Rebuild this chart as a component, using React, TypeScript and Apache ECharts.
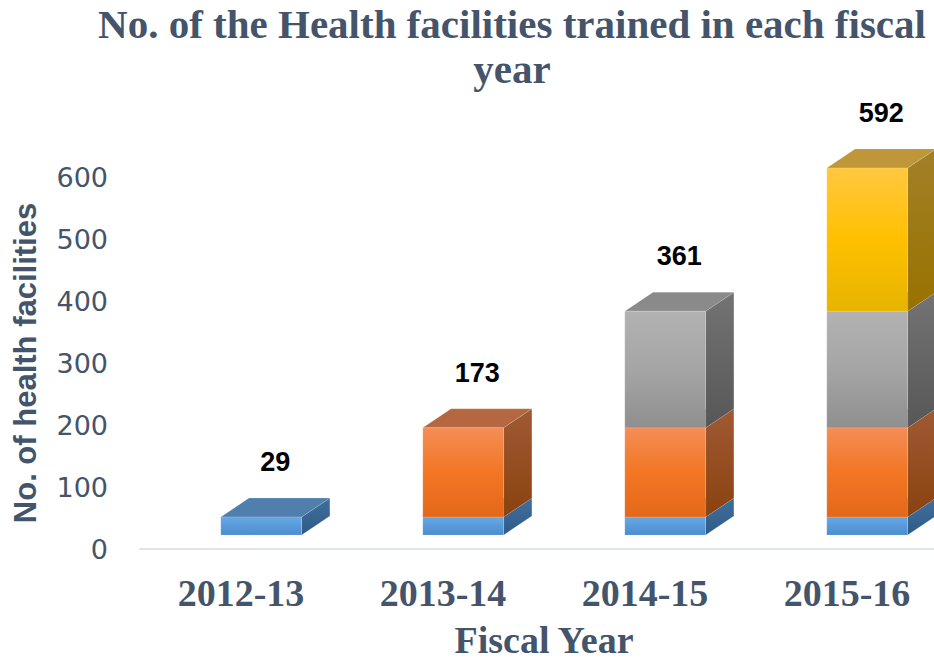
import React, { useEffect, useRef } from "react";
import * as echarts from "echarts";

const categories = ["2012-13", "2013-14", "2014-15", "2015-16"];
const seriesNames = ["Blue", "Orange", "Gray", "Gold"];
const blueValues = [29, 29, 29, 29];
const orangeValues = [0, 144, 144, 144];
const grayValues = [0, 0, 188, 188];
const goldValues = [0, 0, 0, 231];
const yTicks = { min: 0, max: 600, interval: 100 };

const TEXT = "#44546a";

const palettes = [
  { front: ["#67a9e4", "#4a8ccf"], top: "#507fae", side: ["#416f9c", "#2e5a86"] },
  { front: ["#f48d57", "#f27623", "#e4681a"], top: "#b5683f", side: ["#a05a33", "#8a4210"] },
  { front: ["#b2b2b2", "#a5a5a5", "#8f8f8f"], top: "#8a8a8a", side: ["#737373", "#575757"] },
  { front: ["#ffc840", "#ffc000", "#e6b400"], top: "#bf9738", side: ["#a38027", "#987200"] },
];

function grad(stops: string[], horizontal = false) {
  const n = stops.length;
  return new echarts.graphic.LinearGradient(0, 0, horizontal ? 1 : 0, horizontal ? 0 : 1,
    stops.map((c, i) => ({ offset: n === 1 ? 0 : i / (n - 1), color: c })));
}

export default function App() {
  const ref = useRef<HTMLDivElement>(null);
  useEffect(() => {
    if (!ref.current) return;
    const chart = echarts.init(ref.current, undefined, { renderer: "svg" });
    const segs = [blueValues, orangeValues, grayValues, goldValues];
    const totals = categories.map((_, i) => segs.reduce((s, a) => s + a[i], 0));

    const LIFT = 14;
    const DY = 19;

    const geom = (api: any, i: number) => {
      const bw = api.size([1, 0])[0];
      const cx = api.coord([i, 0])[0];
      const L = cx - 0.1 * bw;
      const W = 0.4 * bw;
      const DX = 0.14 * bw;
      return { L, W, R: L + W, DX };
    };

    const barSeries = segs.map((vals, k) => {
      const data = vals.map((v, i) => {
        let base = 0;
        for (let j = 0; j < k; j++) base += segs[j][i];
        return [i, base, base + v];
      });
      const pal = palettes[k];
      return {
        type: "custom",
        name: seriesNames[k],
        clip: false,
        data,
        encode: { x: 0, y: [1, 2] },
        renderItem: (params: any, api: any) => {
          const i = api.value(0);
          const b = api.value(1);
          const t = api.value(2);
          if (t <= b) return null;
          const { L, W, R, DX } = geom(api, i);
          const yb = api.coord([i, b])[1] - LIFT;
          const yt = api.coord([i, t])[1] - LIFT;
          return {
            type: "group",
            children: [
              {
                type: "polygon",
                shape: { points: [[R, yb], [R + DX, yb - DY], [R + DX, yt - DY], [R, yt]] },
                style: { fill: grad(pal.side), stroke: "rgba(255,255,255,0.25)", lineWidth: 0.5 },
              },
              {
                type: "polygon",
                shape: { points: [[L, yt], [R, yt], [R + DX, yt - DY], [L + DX, yt - DY]] },
                style: { fill: pal.top, stroke: "rgba(255,255,255,0.25)", lineWidth: 0.5 },
              },
              {
                type: "rect",
                shape: { x: L, y: yt, width: W, height: yb - yt },
                style: { fill: grad(pal.front), stroke: "rgba(255,255,255,0.3)", lineWidth: 0.5 },
              },
            ],
          };
        },
      };
    });

    const labelSeries = {
      type: "custom",
      name: "Totals",
      clip: false,
      data: totals.map((v, i) => [i, v]),
      encode: { x: 0, y: 1 },
      renderItem: (params: any, api: any) => {
        const i = api.value(0);
        const v = api.value(1);
        const { L, W, DX } = geom(api, i);
        const y = api.coord([i, v])[1] - LIFT - DY - 36;
        return {
          type: "text",
          x: L + W / 2 + DX / 2,
          y,
          style: {
            text: String(v),
            fill: "#000",
            font: "bold 27px 'Liberation Sans', Arial, sans-serif",
            align: "center",
            verticalAlign: "middle",
          },
        };
      },
    };

    chart.setOption({
      animation: false,
      title: {
        text: "No. of the Health facilities trained in each fiscal\nyear",
        left: 507,
        top: -4,
        textAlign: "center",
        textStyle: {
          fontFamily: "'Liberation Serif', serif",
          fontWeight: "bold",
          fontSize: 41,
          lineHeight: 45,
          color: TEXT,
        },
      },
      grid: { left: 140, top: 177, width: 808, height: 374 },
      xAxis: {
        type: "category",
        data: categories,
        axisLine: { show: true, lineStyle: { color: "#d6dce4", width: 1.5 } },
        axisTick: { show: false },
        axisLabel: {
          margin: 25,
          fontFamily: "'Liberation Serif', serif",
          fontWeight: "bold",
          fontSize: 38,
          lineHeight: 38,
          color: TEXT,
        },
        name: "Fiscal Year",
        nameLocation: "middle",
        nameGap: 72,
        nameTextStyle: {
          fontFamily: "'Liberation Serif', serif",
          fontWeight: "bold",
          fontSize: 38,
          lineHeight: 38,
          color: TEXT,
        },
      },
      yAxis: {
        type: "value",
        min: yTicks.min,
        max: yTicks.max,
        interval: yTicks.interval,
        axisLine: { show: false },
        axisTick: { show: false },
        splitLine: { show: false },
        axisLabel: {
          margin: 32,
          fontFamily: "'DejaVu Sans', sans-serif",
          fontSize: 27,
          color: TEXT,
        },
        name: "No. of health facilities",
        nameLocation: "middle",
        nameGap: 99,
        nameTextStyle: {
          fontFamily: "'Liberation Sans', Arial, sans-serif",
          fontWeight: "bold",
          fontSize: 31,
          color: TEXT,
        },
      },
      series: [...barSeries, labelSeries],
    });
    return () => chart.dispose();
  }, []);
  return (
    <div style={{ position: "fixed", left: 0, top: 0, width: 934, height: 664, overflow: "hidden", background: "#fff" }}>
      <div ref={ref} style={{ position: "absolute", left: 0, top: 0, width: 960, height: 664 }} />
    </div>
  );
}
